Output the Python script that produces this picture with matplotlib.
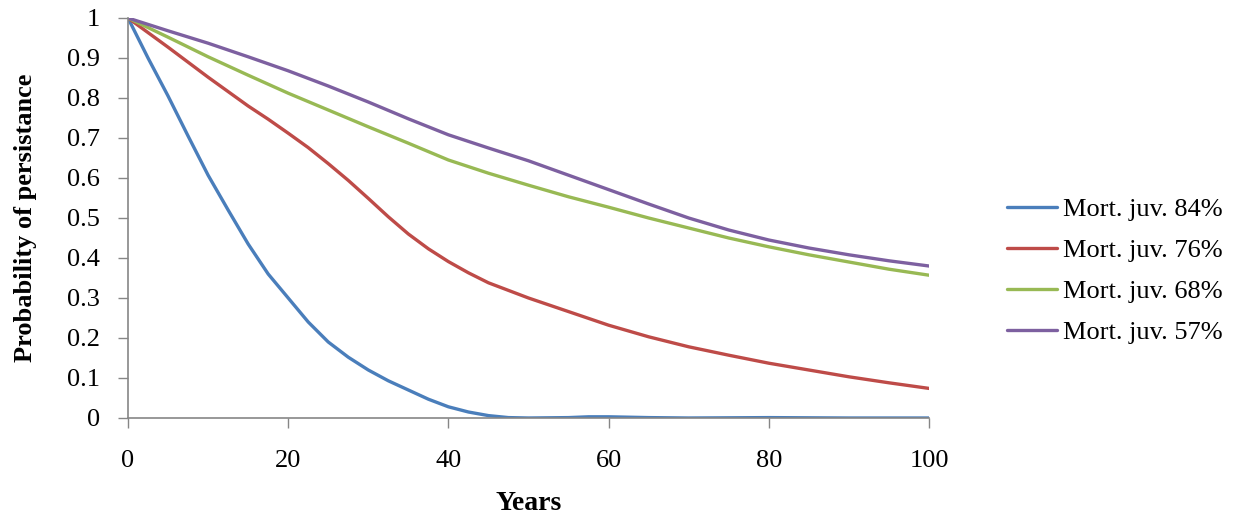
import matplotlib
matplotlib.use("Agg")
import matplotlib.pyplot as plt

# Years on the x axis (read every 5 years; steep parts read more finely)
years = [0, 5, 10, 15, 20, 25, 30, 35, 40, 45, 50, 55, 60, 65, 70, 75, 80, 85, 90, 95, 100]
years_84 = [0, 2.5, 5, 7.5, 10, 12.5, 15, 17.5, 20, 22.5, 25, 27.5, 30, 32.5, 35, 37.5,
            40, 42.5, 45, 47.5, 50, 55, 57.5, 60, 65, 70, 80, 90, 100]
years_76 = [0, 5, 10, 15, 17.5, 20, 22.5, 25, 27.5, 30, 32.5, 35, 37.5, 40, 42.5, 45,
            50, 55, 60, 65, 70, 75, 80, 85, 90, 95, 100]

# Probability of persistance per juvenile mortality level
mort_84 = [1.0, 0.90, 0.805, 0.705, 0.607, 0.52, 0.435, 0.36, 0.30, 0.24, 0.19, 0.152,
           0.12, 0.093, 0.07, 0.047, 0.028, 0.015, 0.006, 0.001, 0.0, 0.001, 0.003,
           0.003, 0.001, 0.0, 0.001, 0.0, 0.0]
mort_76 = [1.0, 0.927, 0.852, 0.78, 0.747, 0.712, 0.676, 0.636, 0.594, 0.549, 0.503,
           0.46, 0.423, 0.391, 0.363, 0.338, 0.30, 0.266, 0.232, 0.203, 0.178, 0.157,
           0.137, 0.12, 0.103, 0.088, 0.074]
mort_68 = [1.0, 0.952, 0.903, 0.857, 0.812, 0.77, 0.728, 0.687, 0.645, 0.612, 0.582,
           0.553, 0.527, 0.5, 0.475, 0.45, 0.428, 0.408, 0.39, 0.372, 0.357]
mort_57 = [1.0, 0.968, 0.937, 0.903, 0.868, 0.83, 0.79, 0.748, 0.708, 0.675, 0.643,
           0.607, 0.571, 0.535, 0.5, 0.47, 0.445, 0.425, 0.408, 0.393, 0.38]

labels = ["Mort. juv. 84%", "Mort. juv. 76%", "Mort. juv. 68%", "Mort. juv. 57%"]
colors = ["#4A7EBB", "#BE4B48", "#98B954", "#7D60A0"]

plt.rcParams['font.family'] = ['Liberation Serif', 'DejaVu Serif']

fig = plt.figure(figsize=(12.54, 5.19), dpi=100)
ax = fig.add_axes([128 / 1254, 1 - 418 / 519, 801 / 1254, 400 / 519])

series = [(years_84, mort_84), (years_76, mort_76), (years, mort_68), (years, mort_57)]
for (x, y), lab, c in zip(series, labels, colors):
    ax.plot(x, y, color=c, lw=2.4, label=lab, solid_capstyle='round',
            solid_joinstyle='round')

ax.set_xlim(0, 100)
ax.set_ylim(0, 1)
ax.set_xticks([0, 20, 40, 60, 80, 100])
ax.set_yticks([i / 10 for i in range(11)])
ax.set_yticklabels(["0", "0.1", "0.2", "0.3", "0.4", "0.5", "0.6", "0.7", "0.8", "0.9", "1"])

for side in ["top", "right"]:
    ax.spines[side].set_visible(False)
for side in ["left", "bottom"]:
    ax.spines[side].set_color("#868686")
    ax.spines[side].set_linewidth(1.2)

ax.tick_params(axis='x', direction='out', length=7, width=1, color="#868686",
               labelsize=19, pad=16)
ax.tick_params(axis='y', direction='out', length=7, width=1, color="#868686",
               labelsize=19, pad=13)

ax.set_xlabel("Years", fontsize=20, fontweight='bold', labelpad=14)
ax.set_ylabel("Probability of persistance", fontsize=19, fontweight='bold', labelpad=22)

ax.legend(loc='center left', bbox_to_anchor=(1.068, 0.368), frameon=False,
          fontsize=19, handlelength=1.9, handletextpad=0.2, labelspacing=0.66)

fig.savefig("out.png", dpi=100)
